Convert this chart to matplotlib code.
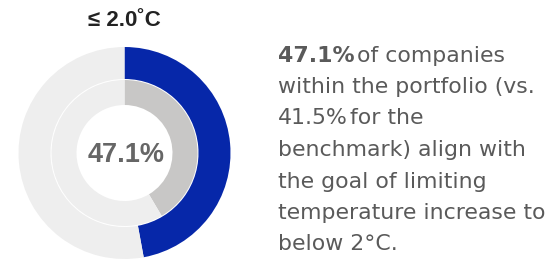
import matplotlib
matplotlib.use("Agg")
import matplotlib.pyplot as plt

plt.rcParams['font.family'] = ['Liberation Sans', 'DejaVu Sans']

portfolio_pct = 47.1
benchmark_pct = 41.5
title = "≤ 2.0˚C"
center_label = "47.1%"
# each line: list of (segment text, font weight)
text_lines = [
    [("47.1%", "bold"), ("of companies", "normal")],
    [("within the portfolio (vs.", "normal")],
    [("41.5%", "normal"), ("for the", "normal")],
    [("benchmark) align with", "normal")],
    [("the goal of limiting", "normal")],
    [("temperature increase to", "normal")],
    [("below 2°C.", "normal")],
]

W, H = 556, 278
fig = plt.figure(figsize=(W / 100, H / 100), dpi=100)

cx, cy, R = 124.5, 153, 106
ax = fig.add_axes([(cx - R) / W, 1 - (cy + R) / H, 2 * R / W, 2 * R / H])
ax.set_aspect('equal')
ax.axis('off')

blue = '#0627a9'
light = '#eeeeee'
gray = '#c8c7c6'

ax.pie([portfolio_pct, 100 - portfolio_pct], colors=[blue, light], radius=1.0,
       startangle=90, counterclock=False,
       wedgeprops=dict(width=32 / R, linewidth=0))
ax.pie([benchmark_pct, 100 - benchmark_pct], colors=[gray, light], radius=73 / R,
       startangle=90, counterclock=False,
       wedgeprops=dict(width=25 / R, linewidth=0))
ax.set_xlim(-1, 1)
ax.set_ylim(-1, 1)


def fx(x):
    return x / W


def fy(y):
    return 1 - y / H


fig.text(fx(126), fy(155.5), center_label, ha='center', va='center',
         fontsize=19.5, fontweight='bold', color='#666666')
fig.text(fx(124.5), fy(26.5), title, ha='center', va='baseline',
         fontsize=16, fontweight='bold', color='#222222')

txt_color = '#5a5a5a'
fs = 15.8
x0 = 278
baseline0 = 61.5
step = 31.5
fig.canvas.draw()
renderer = fig.canvas.get_renderer()
for i, segs in enumerate(text_lines):
    yb = baseline0 + i * step
    x = x0
    for seg, wt in segs:
        t = fig.text(fx(x), fy(yb), seg, ha='left', va='baseline', fontsize=fs,
                     fontweight=wt, color=txt_color,
                     family=['DejaVu Sans'])
        bb = t.get_window_extent(renderer)
        x = x + bb.width + 2

fig.savefig('out.png', dpi=100)
